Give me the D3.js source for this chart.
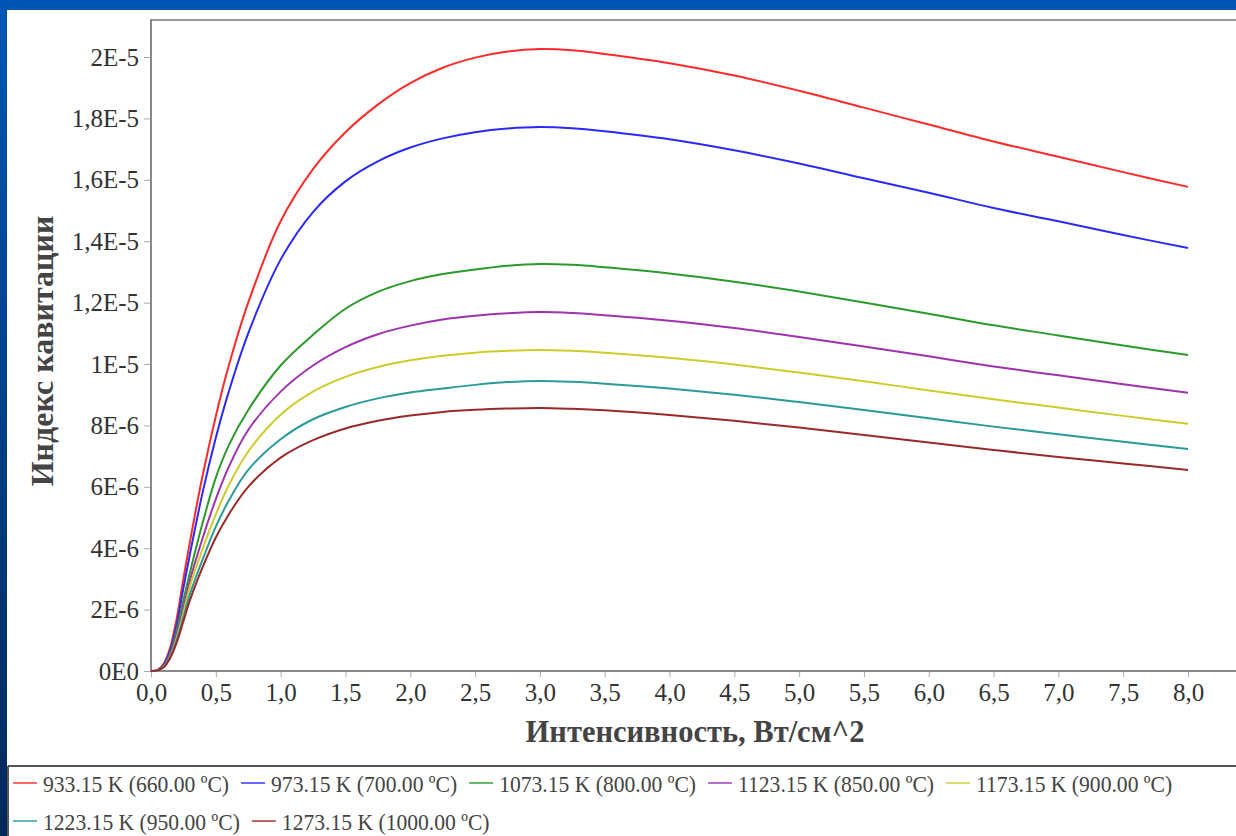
<!DOCTYPE html>
<html><head><meta charset="utf-8">
<script src="https://cdn.jsdelivr.net/npm/d3@7"></script>
<style>html,body{margin:0;padding:0;overflow:hidden;background:#0057b3}</style>
</head><body>
<svg id="c" width="1236" height="836"></svg>
<script>
const xs = [0,0.05,0.1,0.15,0.2,0.25,0.3,0.4,0.5,0.6,0.75,1.0,1.25,1.5,1.75,2.0,2.25,2.5,2.75,3.0,3.25,3.5,4.0,4.5,5.0,5.5,6.0,6.5,7.0,7.5,8.0];
// values in units of 1E-6
const s933  = [0,0.03,0.25,0.8,1.75,3.0,4.2,6.4,8.3,9.95,12.0,14.65,16.35,17.55,18.45,19.15,19.65,19.98,20.18,20.26,20.22,20.1,19.8,19.4,18.9,18.35,17.8,17.25,16.75,16.25,15.77];
const s973  = [0,0.03,0.22,0.7,1.55,2.7,3.8,5.85,7.6,9.1,11.0,13.4,14.95,15.95,16.6,17.05,17.35,17.55,17.67,17.72,17.68,17.58,17.32,16.96,16.53,16.05,15.58,15.08,14.65,14.2,13.78];
const s1073 = [0,0.02,0.18,0.6,1.35,2.3,3.2,4.85,6.3,7.35,8.5,9.95,10.95,11.8,12.35,12.7,12.93,13.08,13.2,13.26,13.23,13.15,12.95,12.68,12.36,12.0,11.64,11.26,10.93,10.6,10.29];
const s1123 = [0,0.02,0.16,0.55,1.2,2.05,2.95,4.35,5.6,6.65,7.85,9.1,9.95,10.55,10.97,11.25,11.45,11.57,11.65,11.69,11.66,11.59,11.41,11.17,10.88,10.57,10.25,9.92,9.63,9.34,9.06];
const s1173 = [0,0.02,0.15,0.5,1.1,1.9,2.75,4.0,5.1,6.05,7.15,8.35,9.1,9.58,9.9,10.12,10.27,10.37,10.43,10.46,10.43,10.37,10.2,9.98,9.72,9.44,9.14,8.85,8.58,8.31,8.05];
const s1223 = [0,0.02,0.14,0.47,1.02,1.75,2.5,3.65,4.7,5.55,6.55,7.55,8.2,8.6,8.88,9.07,9.2,9.32,9.41,9.45,9.42,9.36,9.2,9.0,8.76,8.5,8.23,7.96,7.71,7.47,7.23];
const s1273 = [0,0.02,0.13,0.44,0.95,1.62,2.3,3.4,4.35,5.1,6.0,6.95,7.52,7.9,8.15,8.32,8.44,8.51,8.55,8.57,8.54,8.49,8.34,8.15,7.93,7.69,7.44,7.2,6.97,6.76,6.55];
const seriesNames = ["933.15 K (660.00 ºC)","973.15 K (700.00 ºC)","1073.15 K (800.00 ºC)","1123.15 K (850.00 ºC)","1173.15 K (900.00 ºC)","1223.15 K (950.00 ºC)","1273.15 K (1000.00 ºC)"];
const seriesColors = ["#ff2a2a","#2a2aff","#2a9a2a","#a032b0","#cccc2a","#2a9a9a","#9a2a2a"];
const xTicks = [0,0.5,1,1.5,2,2.5,3,3.5,4,4.5,5,5.5,6,6.5,7,7.5,8];
const yTicks = [0,2,4,6,8,10,12,14,16,18,20];
const yTickLabels = ["0E0","2E-6","4E-6","6E-6","8E-6","1E-5","1,2E-5","1,4E-5","1,6E-5","1,8E-5","2E-5"];
const xTitle = "Интенсивность, Вт/см^2";
const yTitle = "Индекс кавитации";

const allSeries = [s933,s973,s1073,s1123,s1173,s1223,s1273];
const svg = d3.select("#c");
const defs = svg.append("defs");
const g1 = defs.append("linearGradient").attr("id","lg").attr("x1",0).attr("y1",0).attr("x2",0).attr("y2",1);
g1.append("stop").attr("offset","0%").attr("stop-color","#0057b3");
g1.append("stop").attr("offset","100%").attr("stop-color","#00285a");
svg.append("rect").attr("width",1236).attr("height",836).attr("fill","#0057b3");
svg.append("rect").attr("x",0).attr("y",0).attr("width",8).attr("height",836).attr("fill","url(#lg)");
svg.append("rect").attr("x",7).attr("y",10).attr("width",1229).attr("height",826).attr("fill","#ffffff");

const L=151, T=20, B=671;
const x = d3.scaleLinear().domain([0,8]).range([L,1188]);
const y = d3.scaleLinear().domain([0,20]).range([B,57]);
const font = "'Liberation Serif','Times New Roman',serif";

defs.append("clipPath").attr("id","pc").append("rect").attr("x",L).attr("y",T).attr("width",1236-L).attr("height",B-T+2);

// axes
const xa = svg.append("g").attr("transform",`translate(0,${B})`)
  .call(d3.axisBottom(x).tickValues(xTicks).tickSize(6).tickPadding(6).tickFormat(d=>d3.format(".1f")(d).replace(".",",")));
xa.attr("font-family",font).attr("font-size",null);
xa.select(".domain").remove();
xa.selectAll("line").attr("stroke","#aaa").attr("stroke-width",1);
xa.selectAll("text").style("font-family",font).style("font-size","25px").attr("fill","#333").attr("dy","0.72em");
const ya = svg.append("g").attr("transform",`translate(${L},0)`)
  .call(d3.axisLeft(y).tickValues(yTicks).tickSize(7).tickPadding(5).tickFormat((d,i)=>yTickLabels[i]));
ya.attr("font-family",font).attr("font-size",null);
ya.select(".domain").remove();
ya.selectAll("line").attr("stroke","#aaa").attr("stroke-width",1);
ya.selectAll("text").style("font-family",font).style("font-size","25px").attr("fill","#333");

svg.append("line").attr("x1",L).attr("x2",1236).attr("y1",T).attr("y2",T).attr("stroke","#999").attr("stroke-width",2);
svg.append("line").attr("x1",L).attr("x2",L).attr("y1",T-1).attr("y2",B+1).attr("stroke","#888").attr("stroke-width",2);
svg.append("line").attr("x1",L).attr("x2",1236).attr("y1",B).attr("y2",B).attr("stroke","#888").attr("stroke-width",2);

// lines
const line = d3.line().x((d,i)=>x(xs[i])).y(d=>y(d)).curve(d3.curveCatmullRom.alpha(0.5));
const pg = svg.append("g").attr("clip-path","url(#pc)");
allSeries.forEach((s,i)=>{
  pg.append("path").attr("d",line(s)).attr("fill","none").attr("stroke",seriesColors[i]).attr("stroke-width",2);
});

// titles
svg.append("text").attr("x",695).attr("y",742).attr("text-anchor","middle").style("font-family",font)
  .attr("font-weight","bold").style("font-size","30.5px").attr("fill","#444").text(xTitle);
svg.append("text").attr("transform","translate(53,351) rotate(-90)").attr("text-anchor","middle").style("font-family",font)
  .attr("font-weight","bold").style("font-size","32px").attr("fill","#444").text(yTitle);

// legend
svg.append("line").attr("x1",8).attr("x2",1236).attr("y1",766).attr("y2",766).attr("stroke","#555").attr("stroke-width",2);
svg.append("line").attr("x1",8).attr("x2",8).attr("y1",766).attr("y2",836).attr("stroke","#555").attr("stroke-width",2);
const lg = svg.append("g");
let lx = 13, ly = 783;
const sx = 0.9;
seriesNames.forEach((n,i)=>{
  if (i===5) { lx = 13; ly = 821; }
  lg.append("line").attr("x1",lx).attr("x2",lx+24).attr("y1",ly).attr("y2",ly).attr("stroke",seriesColors[i]).attr("stroke-opacity",0.7).attr("stroke-width",2);
  const t = lg.append("text").attr("transform",`translate(${lx+30},${ly+9}) scale(${sx},1)`).style("font-family",font).style("font-size","24px").attr("fill","#444").text(n);
  lx += 30 + t.node().getComputedTextLength()*sx + 12;
});
</script>
</body></html>
